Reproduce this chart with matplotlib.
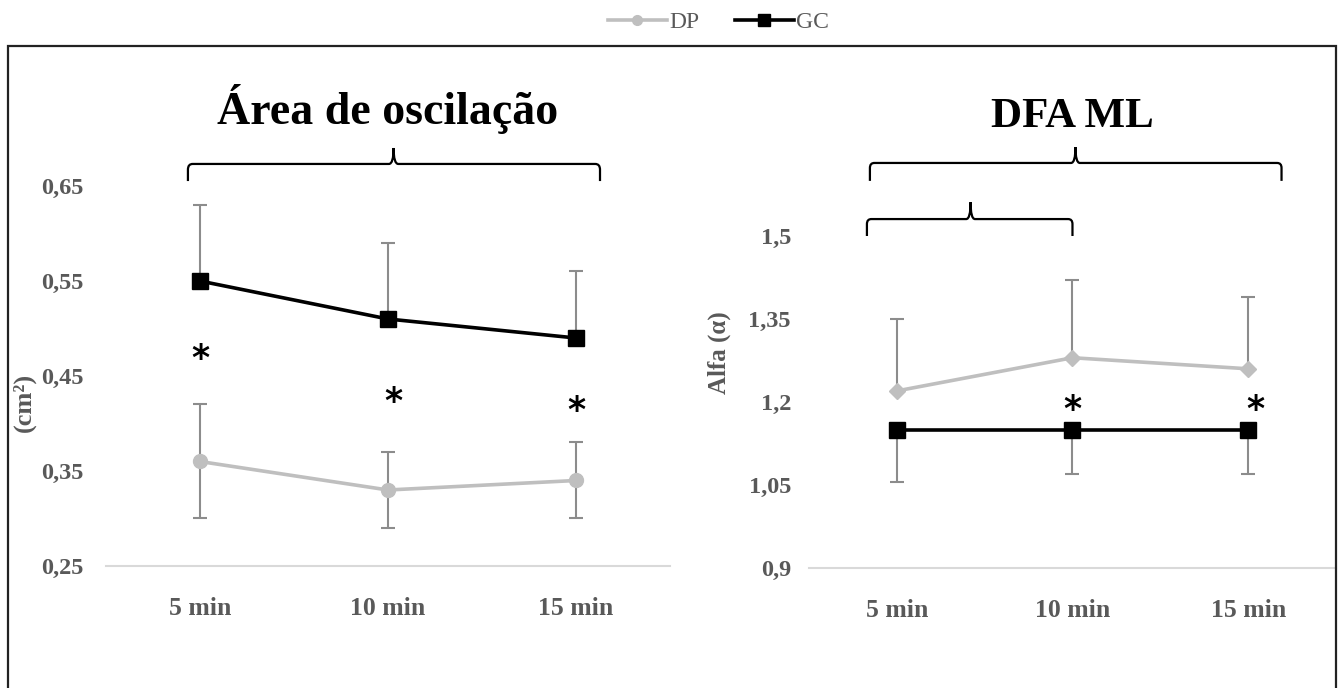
import matplotlib
matplotlib.use("Agg")
import matplotlib.pyplot as plt
from matplotlib.path import Path
from matplotlib.patches import PathPatch, Rectangle
from matplotlib.transforms import blended_transform_factory, offset_copy

plt.rcParams['font.family'] = ['Liberation Serif', 'DejaVu Serif']

# data
categories = ['5 min', '10 min', '15 min']

area_dp = [0.36, 0.33, 0.34]
area_dp_up = [0.06, 0.04, 0.04]
area_dp_down = [0.06, 0.04, 0.04]
area_gc = [0.55, 0.51, 0.49]
area_gc_up = [0.08, 0.08, 0.07]
area_ticks = [0.25, 0.35, 0.45, 0.55, 0.65]
area_ticklabels = ['0,25', '0,35', '0,45', '0,55', '0,65']
area_stars_x = [0, 1.03, 2.0]
area_stars_y = [0.475, 0.43, 0.421]

dfa_dp = [1.22, 1.28, 1.26]
dfa_dp_up = [0.13, 0.14, 0.13]
dfa_gc = [1.15, 1.15, 1.15]
dfa_gc_down = [0.095, 0.08, 0.08]
dfa_ticks = [0.9, 1.05, 1.2, 1.35, 1.5]
dfa_ticklabels = ['0,9', '1,05', '1,2', '1,35', '1,5']
dfa_stars_x = [1.0, 2.04]
dfa_stars_y = [1.198, 1.198]

DP_COLOR = '#bfbfbf'
ERR_COLOR = '#8c8c8c'
TXT_COLOR = '#595959'

fig = plt.figure(figsize=(13.38, 6.88), dpi=100)

# outer frame (top, left, right edges only)
fig.patches.append(Rectangle((8 / 1338, -0.05), 1328 / 1338, 0.05 + 642 / 688,
                             transform=fig.transFigure, fill=False,
                             edgecolor='#222222', linewidth=1.6))

ax1 = fig.add_axes([0.0792, 0.17733, 0.4215, 0.55233])
ax2 = fig.add_axes([0.6046, 0.17442, 0.3939, 0.48256])

x = list(range(len(categories)))


def style(ax, ticks, labels, ylim, ypad):
    ax.set_xlim(-0.5, 2.5)
    ax.set_ylim(*ylim)
    for s in ['top', 'right', 'left']:
        ax.spines[s].set_visible(False)
    ax.spines['bottom'].set_color('#d9d9d9')
    ax.spines['bottom'].set_linewidth(1.5)
    ax.set_yticks(ticks)
    ax.set_yticklabels(labels)
    ax.set_xticks(x)
    ax.set_xticklabels(categories)
    ax.tick_params(axis='both', length=0, labelsize=17.5, labelcolor=TXT_COLOR)
    ax.tick_params(axis='x', pad=22, labelsize=18.5)
    ax.tick_params(axis='y', pad=ypad)
    for lab in ax.get_xticklabels() + ax.get_yticklabels():
        lab.set_fontweight('bold')


def bracket(ax, x0, x1, xm, y0, y1, y2):
    tr = blended_transform_factory(ax.transData, ax.transAxes)
    rx, ry = 0.025, 0.015
    verts = [(x0, y0), (x0, y1 - ry), (x0, y1), (x0 + rx, y1),
             (xm - rx, y1), (xm, y1), (xm, y2),
             (xm, y1), (xm + rx, y1),
             (x1 - rx, y1), (x1, y1), (x1, y1 - ry), (x1, y0)]
    codes = [Path.MOVETO, Path.LINETO, Path.CURVE3, Path.CURVE3,
             Path.LINETO, Path.CURVE3, Path.CURVE3,
             Path.CURVE3, Path.CURVE3,
             Path.LINETO, Path.CURVE3, Path.CURVE3, Path.LINETO]
    ax.add_patch(PathPatch(Path(verts, codes), transform=tr, fill=False,
                           edgecolor='black', linewidth=1.6, clip_on=False))


def stars(ax, xs, ys):
    tr = offset_copy(ax.transData, fig=fig, y=-7, units='dots')
    for sx, sy in zip(xs, ys):
        ax.text(sx, sy, '*', fontsize=25, fontweight='bold', ha='center', va='center',
                family='DejaVu Sans', transform=tr)


# --- Área de oscilação
style(ax1, area_ticks, area_ticklabels, (0.25, 0.65), 16)
ax1.errorbar(x, area_dp, yerr=[area_dp_down, area_dp_up], fmt='none',
             ecolor=ERR_COLOR, elinewidth=1.5, capsize=5, capthick=1.5, clip_on=False)
ax1.errorbar(x, area_gc, yerr=[[0, 0, 0], area_gc_up], fmt='none',
             ecolor=ERR_COLOR, elinewidth=1.5, capsize=5, capthick=1.5, clip_on=False)
ax1.plot(x, area_dp, color=DP_COLOR, lw=2.6, marker='o', ms=10, label='DP', clip_on=False)
ax1.plot(x, area_gc, color='black', lw=2.6, marker='s', ms=12, label='GC', clip_on=False)
stars(ax1, area_stars_x, area_stars_y)
ax1.set_ylabel('(cm²)', fontsize=19, fontweight='bold', color=TXT_COLOR, labelpad=0)
ax1.yaxis.set_label_coords(-0.125, 0.43)
ax1.set_title('Área de oscilação', fontsize=33, fontweight='bold', y=1.163, pad=0)
bracket(ax1, -0.064, 2.128, 1.03, 1.013, 1.058, 1.10)

# --- DFA ML
style(ax2, dfa_ticks, dfa_ticklabels, (0.9, 1.5), 13)
ax2.errorbar(x, dfa_dp, yerr=[[0, 0, 0], dfa_dp_up], fmt='none',
             ecolor=ERR_COLOR, elinewidth=1.5, capsize=5, capthick=1.5, clip_on=False)
ax2.errorbar(x, dfa_gc, yerr=[dfa_gc_down, [0, 0, 0]], fmt='none',
             ecolor=ERR_COLOR, elinewidth=1.5, capsize=5, capthick=1.5, clip_on=False)
ax2.plot(x, dfa_dp, color=DP_COLOR, lw=2.6, marker='D', ms=8, clip_on=False)
ax2.plot(x, dfa_gc, color='black', lw=2.6, marker='s', ms=12, clip_on=False)
stars(ax2, dfa_stars_x, dfa_stars_y)
ax2.set_ylabel('Alfa (α)', fontsize=18, fontweight='bold', color=TXT_COLOR, labelpad=0)
ax2.yaxis.set_label_coords(-0.148, 0.65)
ax2.set_title('DFA ML', fontsize=31, fontweight='bold', y=1.328, pad=0)
bracket(ax2, -0.153, 2.19, 1.017, 1.166, 1.22, 1.268)
bracket(ax2, -0.17, 1.0, 0.42, 1.0, 1.051, 1.102)

handles, labels = ax1.get_legend_handles_labels()
fig.legend(handles, labels, loc='center', bbox_to_anchor=(0.537, 0.968), ncol=2,
           frameon=False, fontsize=17, labelcolor=TXT_COLOR, handlelength=2.5,
           handletextpad=0.1, columnspacing=1.5, markerscale=0.7)

fig.savefig('out.png', dpi=100)
